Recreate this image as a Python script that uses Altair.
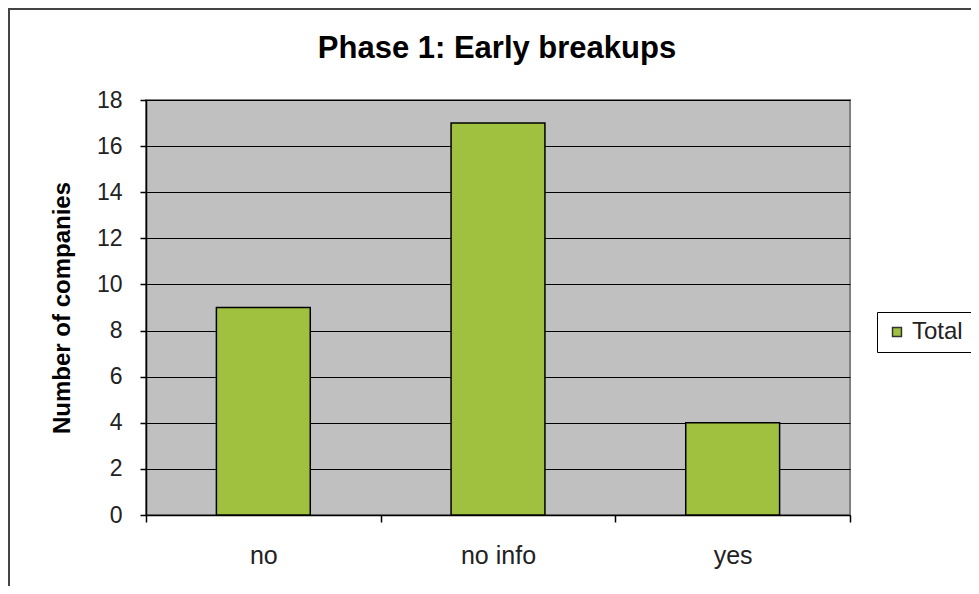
import altair as alt
import pandas as pd

categories = ["no", "no info", "yes"]
counts = [9, 17, 4]
series = ["Total", "Total", "Total"]
chart_title = "Phase 1: Early breakups"

df = pd.DataFrame({"category": categories, "count": counts, "series": series})

FONT = "Liberation Sans"
W, H = 704, 415

bars = alt.Chart(df).mark_bar(stroke="black", strokeWidth=1.5, width={"band": 0.4}).encode(
    x=alt.X("category:N", sort=categories, title=None,
            scale=alt.Scale(paddingInner=0, paddingOuter=0),
            axis=alt.Axis(labelAngle=0, tickBand="extent", tickSize=7,
                          labelPadding=21, labelFontSize=25, labelColor="#222",
                          domainColor="black", tickColor="black", domainWidth=1.5,
                          tickWidth=1.5, grid=False, labelFont=FONT)),
    y=alt.Y("count:Q", title="Number of companies",
            scale=alt.Scale(domain=[0, 18], nice=False),
            axis=alt.Axis(values=list(range(0, 19, 2)), tickSize=6, labelPadding=18,
                          labelFontSize=23, labelColor="#222", labelFont=FONT,
                          domainColor="black", tickColor="black", domainWidth=1.5,
                          tickWidth=1.5, grid=True, gridColor="black", gridWidth=1.2,
                          titleFontSize=24, titleFont=FONT, titleFontWeight="bold",
                          titleColor="black", titlePadding=22)),
    color=alt.Color("series:N",
                    scale=alt.Scale(domain=["Total"], range=["#9FC13F"]),
                    legend=alt.Legend(title=None, orient="none", legendX=731, legendY=212,
                                      strokeColor="black", padding=8, fillColor="white",
                                      labelFontSize=24, labelFont=FONT, labelColor="#222",
                                      symbolType="square", symbolSize=80,
                                      symbolStrokeColor="#333", symbolStrokeWidth=1.5,
                                      symbolOpacity=1, labelOffset=3)),
)

title_df = pd.DataFrame({"title": [chart_title]})
title = alt.Chart(title_df).mark_text(
    font=FONT, fontSize=31, fontWeight="bold", color="black", align="center", baseline="middle"
).encode(text="title:N", x=alt.value(351), y=alt.value(-51))

border = alt.Chart(title_df).mark_rect(filled=False, fillOpacity=0, stroke="#444", strokeWidth=2).encode(
    x=alt.value(-137), x2=alt.value(850), y=alt.value(-91), y2=alt.value(600)
)

chart = alt.layer(border, bars, title).properties(
    width=W, height=H,
    padding={"left": 138, "top": 92, "right": 121, "bottom": 71},
    autosize=alt.AutoSizeParams(type="none"),
).configure(
    background="white",
    view=alt.ViewConfig(fill="#C0C0C0", stroke="#808080", strokeWidth=2),
)

chart.save("out.html", embed_options={"renderer": "svg", "actions": False})
